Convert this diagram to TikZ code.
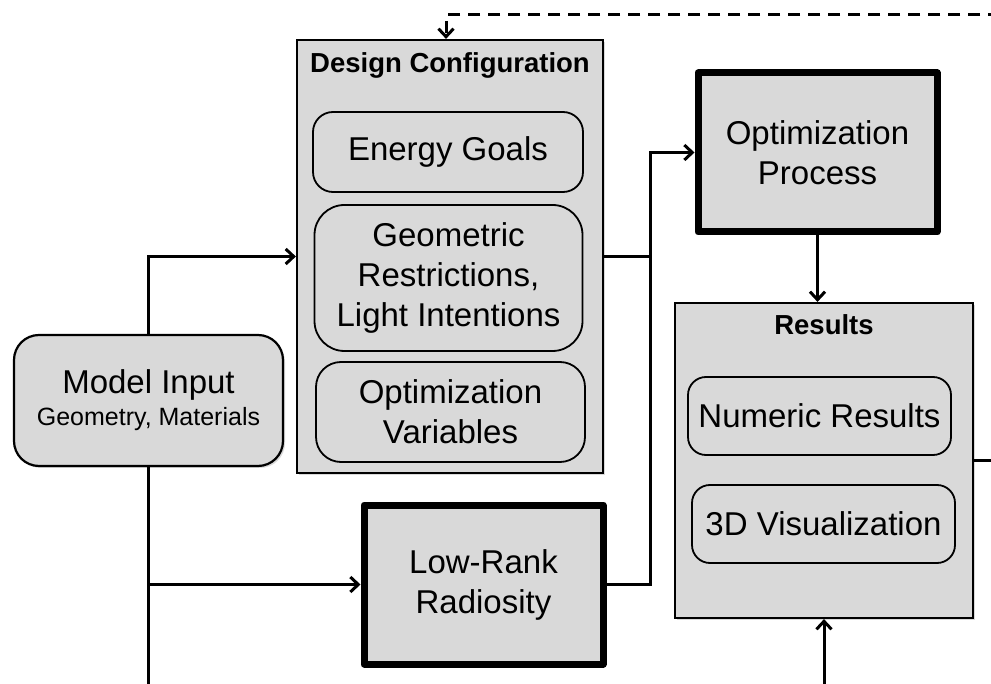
\documentclass[tikz,border=0pt]{standalone}
\usepackage{fontspec}
\setmainfont{Liberation Sans}
\usetikzlibrary{arrows.meta,shadows}
\definecolor{boxgray}{HTML}{D9D9D9}
\newcommand\bigtext{\fontsize{33}{40}\selectfont}
\newcommand\smalltext{\fontsize{25}{30}\selectfont}
\newcommand\titletext{\fontsize{27.5}{32}\selectfont\bfseries}
\tikzset{
  container/.style={draw, line width=2.2pt, fill=boxgray, inner sep=0pt,
    drop shadow={opacity=0.3, shadow xshift=2pt, shadow yshift=-2pt}},
  item/.style={draw, line width=1.8pt, fill=boxgray, align=center,
    inner sep=0pt, font=\bigtext},
  process/.style={draw, line width=7pt, line join=round, fill=boxgray,
    align=center, inner sep=0pt, font=\bigtext},
  heading/.style={anchor=base, inner sep=0pt, font=\titletext},
  flow/.style={line width=3pt, -{Straight Barb[length=8pt,width=15pt]}},
  link/.style={line width=3pt},
  feedback/.style={line width=3pt, dash pattern=on 12pt off 8pt,
    -{Straight Barb[length=8pt,width=15pt]}}
}
\begin{document}
\begin{tikzpicture}[x=1pt, y=-1pt]
\useasboundingbox (0,0) rectangle (991,684);
\clip (0,0) rectangle (991,684);

% Design configuration group
\node[container, minimum width=306, minimum height=433] (dc) at (450,256.5) {};
\node[heading] (dct) at (450,73) {Design Configuration};
\node[item, rounded corners=20pt, minimum width=270, minimum height=80] (eg) at (448,152) {Energy Goals};
\node[item, rounded corners=30pt, minimum width=268, minimum height=146] (gr) at (448.5,278) {Geometric\\Restrictions,\\Light Intentions};
\node[item, rounded corners=25pt, minimum width=269, minimum height=100] (ov) at (450.5,412) {Optimization\\Variables};

% Model input
\node[container, rounded corners=25pt, minimum width=269, minimum height=131,
      align=center, font=\bigtext] (mi) at (148.5,400.5)
      {Model Input\\[-8pt]{\smalltext Geometry, Materials}};

% Processing steps
\node[process, minimum width=239, minimum height=159] (op) at (817.5,152.5) {Optimization\\Process};
\node[process, minimum width=239, minimum height=159] (lr) at (483.5,584.5) {Low-Rank\\Radiosity};

% Results group
\node[container, minimum width=298, minimum height=315] (rs) at (824,460.5) {};
\node[heading] (rst) at (824,335) {Results};
\node[item, rounded corners=18pt, minimum width=263, minimum height=78] (nr) at (819.5,416) {Numeric Results};
\node[item, rounded corners=18pt, minimum width=263, minimum height=78] (vz) at (823.5,524) {3D Visualization};

% Helper points for connectors leaving the frame
\coordinate (j) at (650,0);
\coordinate (fb) at (1000,15);
\coordinate (bot) at (0,700);
\coordinate (rx) at (1000,0);

% Connectors
\draw[flow] (mi.north) |- (dc.west);
\draw[link] (mi.south) -- (mi.south |- bot);
\draw[flow] (mi.south |- lr.west) -- (lr.west);
\draw[flow] (dc.east) -| (j |- op.west) -- (op.west);
\draw[link] (lr.east) -| (j |- dc.east);
\draw[flow] (op.south) -- (op.south |- rs.north);
\draw[flow] (rs.south |- bot) -- (rs.south);
\draw[link] (rs.east) -- (rs.east -| rx);
\draw[feedback] (fb) -| ([xshift=-4pt]dc.north);
\end{tikzpicture}
\end{document}
